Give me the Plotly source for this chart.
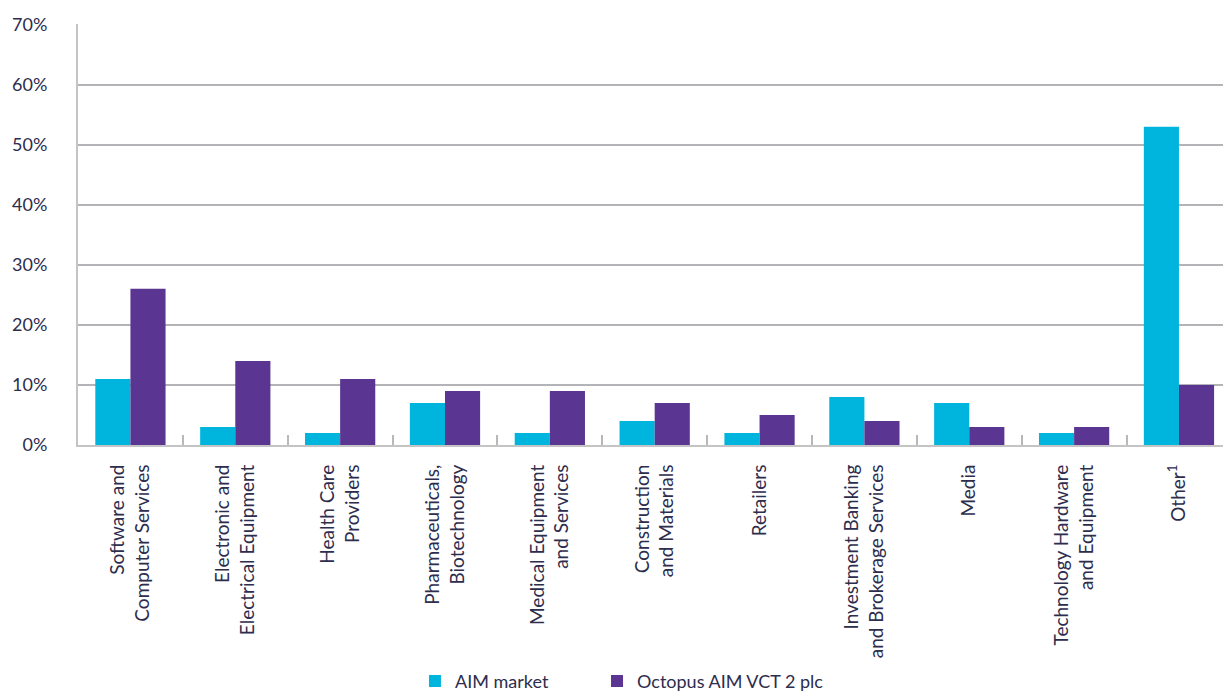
import plotly.graph_objects as go

categories = [
    "Software and<br>Computer Services",
    "Electronic and<br>Electrical Equipment",
    "Health Care<br>Providers",
    "Pharmaceuticals,<br>Biotechnology",
    "Medical Equipment<br>and Services",
    "Construction<br>and Materials",
    "Retailers",
    "Investment Banking<br>and Brokerage Services",
    "Media",
    "Technology Hardware<br>and Equipment",
    "Other<sup>1</sup>",
]
aim_market = [11, 3, 2, 7, 2, 4, 2, 8, 7, 2, 53]
octopus_vct2 = [26, 14, 11, 9, 9, 7, 5, 4, 3, 3, 10]
y_ticks = [0, 10, 20, 30, 40, 50, 60, 70]
y_tick_labels = ["0%", "10%", "20%", "30%", "40%", "50%", "60%", "70%"]

CYAN = "#00b5dd"
PURPLE = "#5a3592"
TEXT = "#2d2d4d"
GRID = "#b4b4b8"
FONT = "Lato"

fig = go.Figure()
fig.add_trace(go.Bar(name="AIM market", x=categories, y=aim_market,
                     marker=dict(color=CYAN, line=dict(width=0)), legend="legend"))
fig.add_trace(go.Bar(name="Octopus AIM VCT 2 plc", x=categories, y=octopus_vct2,
                     marker=dict(color=PURPLE, line=dict(width=0)), legend="legend2"))

leg_common = dict(orientation="h", yref="container", y=0.017, yanchor="middle",
                  xanchor="left", font=dict(size=18, color=TEXT),
                  bgcolor="rgba(0,0,0,0)")

fig.update_layout(
    width=1223, height=693,
    margin=dict(l=78, r=0, t=24, b=248),
    paper_bgcolor="white", plot_bgcolor="white",
    barmode="group", bargap=0.33, bargroupgap=0,
    font=dict(family=FONT, size=17, color=TEXT),
    showlegend=True,
    legend=dict(x=0.2943, **leg_common),
    legend2=dict(x=0.4533, **leg_common),
    xaxis=dict(
        type="category", range=[-0.5, 10.42],
        tickangle=-90, tickson="boundaries", ticks="inside", ticklen=10,
        tickcolor="#b8b8b8", tickwidth=1.5,
        showline=True, linecolor="#c4c4c4", linewidth=2,
        showgrid=False, ticklabelstandoff=10, automargin=False,
        tickfont=dict(size=19, color=TEXT),
    ),
    yaxis=dict(
        range=[0, 70.1], tickvals=y_ticks, ticktext=y_tick_labels,
        showgrid=True, gridcolor=GRID, gridwidth=1.5,
        showline=True, linecolor="#c4c4c4", linewidth=2,
        zeroline=False, ticks="", ticklabelstandoff=25, automargin=False,
        tickfont=dict(size=18, color=TEXT),
    ),
)

fig.write_html("out.html")
